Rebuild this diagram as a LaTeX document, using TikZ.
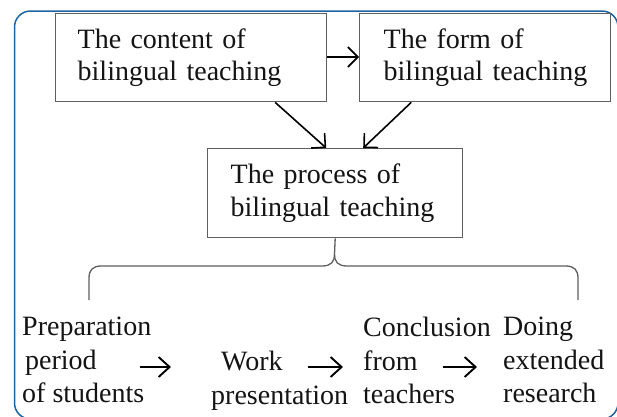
\documentclass[tikz,border=0pt]{standalone}
\usepackage{fontspec}
\setmainfont{Liberation Serif}
\usetikzlibrary{arrows.meta}
\definecolor{framecol}{RGB}{30,100,160}
\definecolor{boxcol}{RGB}{95,95,95}
\definecolor{txtcol}{RGB}{20,20,20}
\begin{document}
\begin{tikzpicture}[x=1pt,y=-1pt,
  box/.style={draw=boxcol, line width=1.4pt, anchor=north west, align=left,
    inner xsep=22pt, inner ysep=0pt, text=txtcol,
    font=\fontsize{28}{32.5}\selectfont},
  label/.style={anchor=north west, align=left, inner sep=0pt, text=txtcol,
    font=\fontsize{28}{33.5}\selectfont},
  arr/.style={draw=black, line width=1.6pt, -{Straight Barb[length=10pt,width=20pt]}},
  barr/.style={draw=black, line width=1.9pt, -{Straight Barb[length=11pt,width=20pt]}},
  brace/.style={draw=boxcol, line width=1.3pt}]
\useasboundingbox (0,0) rectangle (617,416);
\fill[white] (0,0) rectangle (617,416);
\draw[framecol, line width=1.5pt, rounded corners=16pt] (14.5,11) rectangle (618,419);

\node[box, text width=227pt, minimum width=271pt, minimum height=88pt] (c) at (55,13)
  {\mbox{The content of}\\\mbox{bilingual teaching}};
\node[box, inner xsep=24pt, text width=203pt, minimum width=251pt, minimum height=88pt] (f) at (359,13)
  {\mbox{The form of}\\\mbox{bilingual teaching}};
\node[box, inner xsep=23pt, text width=209pt, minimum width=255pt, minimum height=89pt] (p) at (207,148)
  {\mbox{The process of}\\\mbox{bilingual teaching}};

\draw[arr] (c.east |- 0,57) -- (f.west |- 0,57);
\draw[arr] ([xshift=84pt]c.south) -- ([xshift=-9pt]p.north);
\draw[arr] ([xshift=-74pt]f.south) -- ([xshift=28pt]p.north);

\draw[brace] (p.south) -- (334.5,254) .. controls (334.5,262) and (331,266) .. (322,266)
  -- (101,266) .. controls (93,266) and (89,270) .. (89,278) -- (89,300);
\draw[brace] (334.5,254) .. controls (334.5,262) and (338,266) .. (347,266)
  -- (566,266) .. controls (574,266) and (578,270) .. (578,278) -- (578,300);

\node[label] (t1) at (22,317) {Preparation\\\hspace*{3pt}period\\of students};
\node[label] (t2) at (211,351) {\hspace*{10pt}Work\\presentation};
\node[label] (t3) at (363,317) {Conclusion\\from\\teachers};
\node[label] (t4) at (503,317) {Doing\\extended\\research};

\coordinate (a1s) at (140,367); \coordinate (a1e) at (171,367);
\coordinate (a2s) at (308,367); \coordinate (a2e) at (343,367);
\coordinate (a3s) at (443,367); \coordinate (a3e) at (477,367);
\draw[barr] (a1s) -- (a1e);
\draw[barr] (a2s) -- (a2e);
\draw[barr] (a3s) -- (a3e);
\end{tikzpicture}
\end{document}
